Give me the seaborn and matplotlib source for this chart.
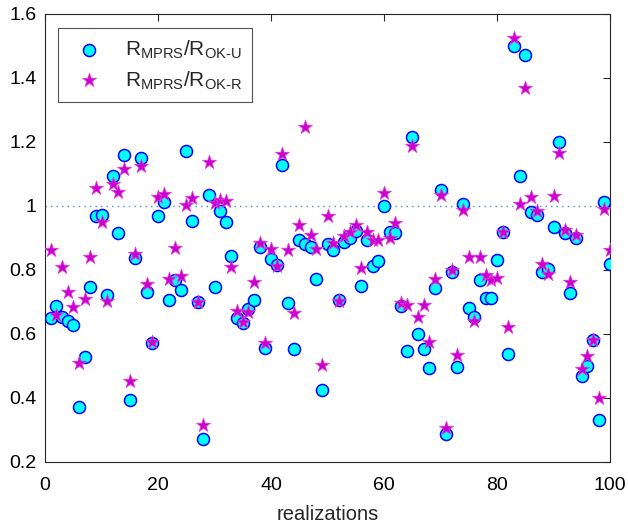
import numpy as np
import pandas as pd
import matplotlib
matplotlib.use('Agg')
import matplotlib.pyplot as plt
import seaborn as sns

# realizations 1..100
realizations = list(range(1, 101))

# R_MPRS / R_OK-U (circles)
ratio_oku = [
    0.648, 0.686, 0.653, 0.640, 0.628, 0.370, 0.528, 0.747, 0.967, 0.970,
    0.719, 1.091, 0.914, 1.157, 0.393, 0.835, 1.150, 0.731, 0.570, 0.966,
    1.012, 0.705, 0.768, 0.736, 1.172, 0.951, 0.700, 0.270, 1.032, 0.745,
    0.984, 0.948, 0.842, 0.648, 0.634, 0.676, 0.705, 0.870, 0.554, 0.834,
    0.815, 1.127, 0.695, 0.551, 0.894, 0.880, 0.871, 0.771, 0.424, 0.881,
    0.862, 0.704, 0.885, 0.898, 0.922, 0.749, 0.893, 0.811, 0.826, 1.000,
    0.916, 0.913, 0.687, 0.544, 1.216, 0.599, 0.551, 0.492, 0.742, 1.049,
    0.286, 0.794, 0.494, 1.005, 0.680, 0.653, 0.766, 0.712, 0.712, 0.829,
    0.919, 0.536, 1.499, 1.094, 1.471, 0.981, 0.971, 0.792, 0.803, 0.933,
    1.198, 0.914, 0.726, 0.900, 0.466, 0.499, 0.581, 0.330, 1.010, 0.816,
]

# R_MPRS / R_OK-R (stars)
ratio_okr = [
    0.861, 0.658, 0.808, 0.731, 0.684, 0.507, 0.708, 0.838, 1.054, 0.950,
    0.703, 1.068, 1.044, 1.114, 0.453, 0.850, 1.123, 0.755, 0.573, 1.028,
    1.037, 0.770, 0.868, 0.779, 1.002, 1.023, 0.700, 0.315, 1.137, 1.008,
    1.019, 1.013, 0.809, 0.669, 0.637, 0.668, 0.761, 0.883, 0.571, 0.864,
    0.811, 1.161, 0.861, 0.664, 0.940, 1.247, 0.909, 0.864, 0.502, 0.966,
    0.884, 0.701, 0.904, 0.918, 0.940, 0.804, 0.919, 0.891, 0.893, 1.038,
    0.900, 0.946, 0.695, 0.690, 1.186, 0.653, 0.690, 0.574, 0.770, 1.033,
    0.306, 0.800, 0.533, 0.986, 0.839, 0.639, 0.838, 0.783, 0.766, 0.775,
    0.919, 0.619, 1.523, 1.005, 1.367, 1.028, 0.984, 0.816, 0.786, 1.029,
    1.163, 0.924, 0.762, 0.909, 0.490, 0.529, 0.580, 0.400, 0.989, 0.860,
]

label_u = r'R$_\mathregular{MPRS}$/R$_\mathregular{OK\text{-}U}$'
label_r = r'R$_\mathregular{MPRS}$/R$_\mathregular{OK\text{-}R}$'

xticks = [0, 20, 40, 60, 80, 100]
yticks = [0.2, 0.4, 0.6, 0.8, 1.0, 1.2, 1.4, 1.6]
ytick_labels = ['0.2', '0.4', '0.6', '0.8', '1', '1.2', '1.4', '1.6']

df = pd.DataFrame({'realization': realizations, 'oku': ratio_oku, 'okr': ratio_okr})

sns.set_style('white')
plt.rcParams['font.family'] = ['Liberation Sans', 'DejaVu Sans']
plt.rcParams['mathtext.fontset'] = 'custom'
plt.rcParams['mathtext.rm'] = 'Liberation Sans'

fig = plt.figure(figsize=(6.28, 5.26), dpi=100)
ax = fig.add_axes([0.0717, 0.1226, 0.8997, 0.8514])

# reference line at ratio 1
ax.axhline(1.0, color='#4a8fc8', linestyle=(0, (1, 3)), linewidth=1.0, zorder=1)

sns.scatterplot(data=df, x='realization', y='oku', ax=ax, marker='o', s=75,
                color='#00ffff', edgecolor='#0000ff', linewidth=1.1,
                label=label_u, zorder=3)
sns.scatterplot(data=df, x='realization', y='okr', ax=ax, marker='*', s=115,
                color='#cc00cc', edgecolor='#e040e0', linewidth=0.5,
                label=label_r, zorder=4)

ax.set_xlim(0, 100)
ax.set_ylim(0.2, 1.6)
ax.set_xticks(xticks)
ax.set_yticks(yticks)
ax.set_yticklabels(ytick_labels)
ax.tick_params(direction='in', length=5, width=0.8, top=True, right=True,
               labelsize=14, colors='#262626', labelcolor='black')
ax.tick_params(axis='x', pad=11)
ax.tick_params(axis='y', pad=6)
ax.set_xlabel('realizations', fontsize=14.5, labelpad=8)
ax.set_ylabel('')
for sp in ax.spines.values():
    sp.set_color('#262626')
    sp.set_linewidth(0.8)

leg = ax.legend(loc='upper left', bbox_to_anchor=(0.023, 0.969), fontsize=15,
                frameon=True, fancybox=False, edgecolor='#262626',
                borderpad=0.5, handletextpad=0.7, labelspacing=0.4,
                borderaxespad=0)
leg.get_frame().set_linewidth(0.8)

fig.savefig('out.png', dpi=100)
